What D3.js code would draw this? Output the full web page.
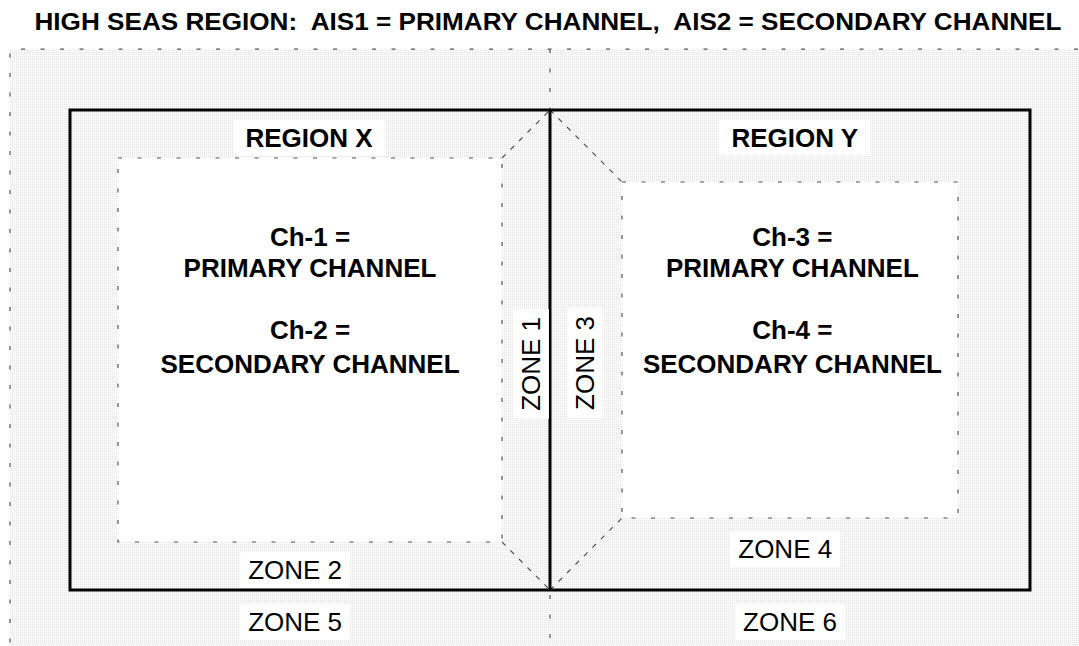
<!DOCTYPE html>
<html>
<head>
    <meta charset="utf-8">
    <script src="https://d3js.org/d3.v7.min.js"></script>
    <style>
        body { margin: 0; background: #fff; }
        text { font-family: "Liberation Sans", Arial, sans-serif; fill: #000; white-space: pre; }
    </style>
</head>
<body>
    <div id="my_dataviz"></div>
    <script>
        // diagram units: solid box spans x -10..10, y 0..10
        var titleText = "HIGH SEAS REGION:  AIS1 = PRIMARY CHANNEL,  AIS2 = SECONDARY CHANNEL";
        var highSeas = [[-11.25, -1.27], [11.1, -1.27], [11.1, 11.5], [-11.25, 11.5]];
        var outerBox = [[-10, 0], [10, 0], [10, 10], [-10, 10]];
        var regionX = [[-9, 1], [-1, 1], [-1, 9], [-9, 9]];
        var regionY = [[1.5, 1.5], [8.5, 1.5], [8.5, 8.5], [1.5, 8.5]];
        var diagonals = [
            [[-1, 1], [0, 0]], [[-1, 9], [0, 10]],
            [[0, 0], [1.5, 1.5]], [[0, 10], [1.5, 8.5]]
        ];
        var centerLine = [[0, -1.27], [0, 11.5]];
        var regionLabels = [
            { text: "REGION X", x: -5.02, y: 0.77 },
            { text: "REGION Y", x: 5.1, y: 0.77 }
        ];
        var channelLabels = [
            { text: "Ch-1 =", x: -5, y: 2.83 },
            { text: "PRIMARY CHANNEL", x: -5, y: 3.48 },
            { text: "Ch-2 =", x: -5, y: 4.77 },
            { text: "SECONDARY CHANNEL", x: -5, y: 5.48 },
            { text: "Ch-3 =", x: 5.05, y: 2.83 },
            { text: "PRIMARY CHANNEL", x: 5.05, y: 3.48 },
            { text: "Ch-4 =", x: 5.05, y: 4.77 },
            { text: "SECONDARY CHANNEL", x: 5.05, y: 5.48 }
        ];
        var zoneLabels = [
            { text: "ZONE 1", x: -0.21, y: 5.29, rotate: -90 },
            { text: "ZONE 3", x: 0.92, y: 5.27, rotate: -90 },
            { text: "ZONE 2", x: -5.31, y: 9.77, rotate: 0 },
            { text: "ZONE 4", x: 4.9, y: 9.33, rotate: 0 },
            { text: "ZONE 5", x: -5.31, y: 10.85, rotate: 0 },
            { text: "ZONE 6", x: 5.0, y: 10.85, rotate: 0 }
        ];

        var width = 1079, height = 646;
        var svg = d3.select("#my_dataviz").append("svg")
            .attr("width", width).attr("height", height);

        var x = d3.scaleLinear().domain([-10, 10]).range([70, 1030]);
        var y = d3.scaleLinear().domain([0, 10]).range([110, 590]);
        var line = d3.line().x(function (d) { return x(d[0]); }).y(function (d) { return y(d[1]); });
        var poly = function (pts) { return line(pts) + "Z"; };

        // stipple texture
        var pat = svg.append("defs").append("pattern")
            .attr("id", "stipple").attr("width", 2).attr("height", 2)
            .attr("patternUnits", "userSpaceOnUse");
        pat.append("rect").attr("width", 2).attr("height", 2).attr("fill", "#f9f9f9");
        pat.append("rect").attr("width", 1).attr("height", 1).attr("fill", "#e6e6e6");

        var dash = "4,15.5";

        svg.append("path").attr("d", poly(highSeas))
            .attr("fill", "url(#stipple)").attr("stroke", "none");
        // dotted edges of the high seas region (top and left)
        svg.append("path").attr("d", line([highSeas[3], highSeas[0], highSeas[1]]))
            .attr("fill", "none").attr("stroke", "#555").attr("stroke-width", 1.2)
            .attr("stroke-dasharray", dash);
        svg.append("path").attr("d", line(centerLine))
            .attr("fill", "none").attr("stroke", "#555").attr("stroke-width", 1.2)
            .attr("stroke-dasharray", dash);

        // inner white regions
        svg.selectAll(".inner").data([regionX, regionY]).enter().append("path")
            .attr("class", "inner").attr("d", poly)
            .attr("fill", "#fff").attr("stroke", "#555").attr("stroke-width", 1.2)
            .attr("stroke-dasharray", dash);
        svg.selectAll(".diag").data(diagonals).enter().append("path")
            .attr("class", "diag").attr("d", line)
            .attr("fill", "none").attr("stroke", "#555").attr("stroke-width", 1.2)
            .attr("stroke-dasharray", "5,7");

        // solid box and divider
        svg.append("path").attr("d", poly(outerBox))
            .attr("fill", "none").attr("stroke", "#000").attr("stroke-width", 3);
        svg.append("path").attr("d", line([[0, 0], [0, 10]]))
            .attr("fill", "none").attr("stroke", "#000").attr("stroke-width", 3);

        svg.append("text").attr("x", 548).attr("y", 30)
            .attr("text-anchor", "middle").attr("font-weight", "bold")
            .attr("font-size", 24).attr("textLength", 1027).attr("lengthAdjust", "spacingAndGlyphs")
            .text(titleText);

        function boxedLabel(d, size, weight, padX, padY) {
            var g = svg.append("g")
                .attr("transform", "translate(" + x(d.x) + "," + y(d.y) + ") rotate(" + (d.rotate || 0) + ")");
            var bg = g.append("rect").attr("fill", "#fff");
            var t = g.append("text").attr("text-anchor", "middle")
                .attr("font-size", size).attr("font-weight", weight).text(d.text);
            var b = t.node().getBBox();
            bg.attr("x", b.x - padX).attr("y", b.y - padY)
                .attr("width", b.width + 2 * padX).attr("height", b.height + 2 * padY);
        }
        regionLabels.forEach(function (d) { boxedLabel(d, 26, "bold", 12, 3); });
        zoneLabels.forEach(function (d) { boxedLabel(d, 26, "normal", 8, 3); });

        svg.selectAll(".ch").data(channelLabels).enter().append("text")
            .attr("class", "ch").attr("x", function (d) { return x(d.x); })
            .attr("y", function (d) { return y(d.y); })
            .attr("text-anchor", "middle").attr("font-weight", "bold").attr("font-size", 26)
            .text(function (d) { return d.text; });
    </script>
</body>
</html>
